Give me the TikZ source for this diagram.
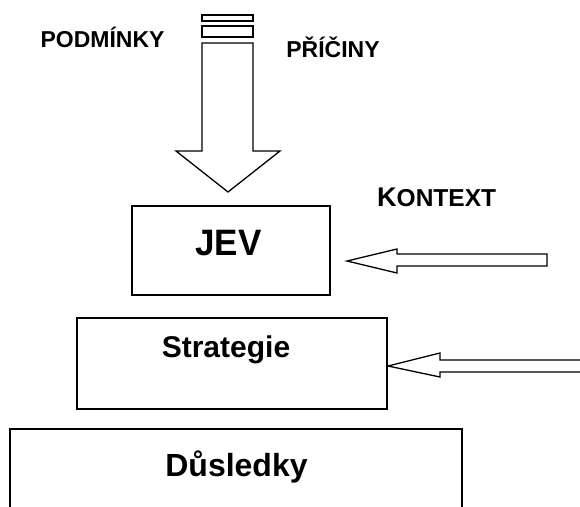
\documentclass[tikz,border=0pt]{standalone}
\usepackage{fontspec}
\setmainfont{Liberation Sans}
\begin{document}
\begin{tikzpicture}[x=1pt,y=-1pt,
  caja/.style={draw,line width=1.5pt,inner sep=0pt,outer sep=0pt},
  texto/.style={anchor=base,inner sep=0pt},
  flecha/.style={draw,line width=1.3pt,line join=miter,fill=white}]
\useasboundingbox (0,0) rectangle (580,506);

% Las tres cajas, una encima de otra
\node[caja,minimum width=198,minimum height=89] (jev) at (231,250.5) {};
\node[caja,minimum width=310,minimum height=91] (strategie) at (232,363.5) {};
\node[caja,minimum width=452,minimum height=100] (dusledky) at (236,479) {};

% Los textos de las cajas
\node[texto,font=\bfseries\fontsize{35}{35}\selectfont,yscale=1.05] (jevtxt) at (228.5,255) {JEV};
\node[texto,font=\bfseries\fontsize{30}{30}\selectfont] (strategietxt) at (226,357) {Strategie};
\node[texto,font=\bfseries\fontsize{32}{32}\selectfont] (dusledkytxt) at (236.5,476) {Důsledky};

% Arriba: podminky y priciny
\node[texto,font=\bfseries\fontsize{23}{23}\selectfont] (podminky) at (102.5,47) {PODMÍNKY};
\node[texto,font=\bfseries\fontsize{23}{23}\selectfont] (priciny) at (333,57) {PŘÍČINY};
\node[texto,anchor=base west,font=\bfseries] (kontext) at (377,206)
  {{\fontsize{27}{27}\selectfont K}{\fontsize{24.5}{24.5}\selectfont ONTEXT}};

% La flecha gorda de arriba con sus dos rayitas
\draw[flecha] (202,15) rectangle (253,21);
\draw[flecha] (202,26) rectangle (253,37);
\draw[flecha] (202,43) -- (202,151) -- (176,151) -- (228,192) -- (280,151)
  -- (253,151) -- (253,43) -- cycle;

% Y las flechas del contexto
\draw[flecha] (547,254) -- (397,254) -- (397,249) -- (347,261) -- (397,273)
  -- (397,266) -- (547,266) -- cycle;
\draw[flecha] (582,360) -- (440,360) -- (440,353) -- (388,366) -- (440,377)
  -- (440,372) -- (582,372);
\end{tikzpicture}
\end{document}
